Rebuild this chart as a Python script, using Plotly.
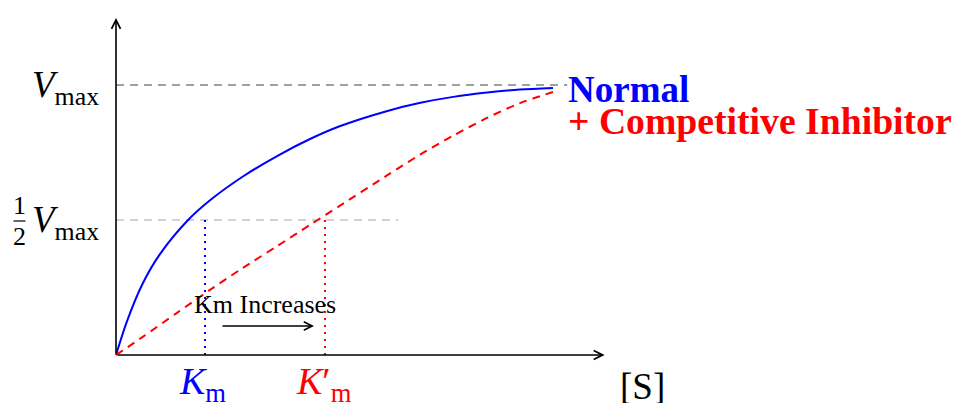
import plotly.graph_objects as go

# ---- data (x in units of Km, y in units of Vmax) ----
normal_s = [0, 0.12, 0.30, 0.49, 0.81, 1.06, 1.43, 1.81, 2.18, 2.52, 3.04, 3.42, 3.79, 4.17, 4.54, 4.91]
normal_v = [0, 0.122, 0.265, 0.372, 0.5, 0.574, 0.662, 0.737, 0.800, 0.848, 0.903, 0.934, 0.956, 0.972, 0.983, 0.989]
inhib_s = [0, 0.30, 0.685, 1.056, 1.427, 1.809, 2.18, 2.517, 3.045, 3.416, 3.787, 4.169, 4.539, 4.91]
inhib_v = [0, 0.067, 0.156, 0.241, 0.323, 0.403, 0.482, 0.553, 0.665, 0.742, 0.812, 0.878, 0.933, 0.974]
vmax = 1.0
half_vmax = 0.5
km = 1.0
km_prime = 2.348
vmax_line_end = 5.07
half_line_end = 3.17
x_axis_end = 5.49
y_axis_end = 1.248

W, H = 966, 403
OFF = 0                    # page body margin (removed by post_script)
X0, Y0 = 116, 355          # screen pixel of origin
SX, SY = 89.0, 270.0       # pixels per unit

def px2x(p):
    return (p - X0) / SX

def py2y(p):
    return (Y0 - p) / SY

SERIF = "Liberation Serif, Times New Roman, serif"

fig = go.Figure()

# reference lines
fig.add_trace(go.Scatter(x=[0, vmax_line_end], y=[vmax, vmax], mode="lines",
                         line=dict(color="#a0a0a0", width=2, dash="8px,6px"), hoverinfo="skip"))
fig.add_trace(go.Scatter(x=[0, half_line_end], y=[half_vmax, half_vmax], mode="lines",
                         line=dict(color="#c4c4c4", width=1.3, dash="8px,6px"), hoverinfo="skip"))
fig.add_trace(go.Scatter(x=[km, km], y=[0, half_vmax], mode="lines",
                         line=dict(color="blue", width=2, dash="2px,5px"), hoverinfo="skip"))
fig.add_trace(go.Scatter(x=[km_prime, km_prime], y=[0, half_vmax], mode="lines",
                         line=dict(color="red", width=2, dash="2px,5px"), hoverinfo="skip"))

# curves
fig.add_trace(go.Scatter(x=normal_s, y=normal_v, mode="lines", line_shape="spline",
                         line=dict(color="blue", width=2, smoothing=0.8), hoverinfo="skip"))
fig.add_trace(go.Scatter(x=inhib_s, y=inhib_v, mode="lines", line_shape="spline",
                         line=dict(color="red", width=2, dash="8px,6px", smoothing=0.8), hoverinfo="skip"))

# axes with arrows
for (xe, ye) in [(x_axis_end, 0), (0, y_axis_end)]:
    fig.add_annotation(x=xe, y=ye, ax=0, ay=0, xref="x", yref="y", axref="x", ayref="y",
                       text="", showarrow=True, arrowhead=5, arrowsize=1.1, arrowwidth=1.6,
                       arrowcolor="black")

# Km increases arrow
fig.add_annotation(x=px2x(314), y=py2y(326), ax=px2x(221), ay=py2y(326),
                   xref="x", yref="y", axref="x", ayref="y", text="", showarrow=True,
                   arrowhead=5, arrowsize=1.1, arrowwidth=1.5, arrowcolor="black")
fig.add_annotation(x=px2x(265), y=py2y(304), text="Km Increases", showarrow=False,
                   font=dict(family=SERIF, size=26, color="black"), xanchor="center", yanchor="middle")

# y labels
fig.add_annotation(x=px2x(101), y=vmax, text="<i>V</i><sub>max</sub>", showarrow=False,
                   font=dict(family=SERIF, size=37, color="black"), xanchor="right", yanchor="middle",
                   yshift=-2)
fig.add_annotation(x=px2x(101), y=half_vmax, text="<i>V</i><sub>max</sub>", showarrow=False,
                   font=dict(family=SERIF, size=37, color="black"), xanchor="right", yanchor="middle",
                   yshift=-2)
# 1/2 fraction
fig.add_annotation(x=px2x(19.5), y=py2y(205), text="1", showarrow=False,
                   font=dict(family=SERIF, size=26, color="black"), xanchor="center", yanchor="middle")
fig.add_annotation(x=px2x(19.5), y=py2y(236), text="2", showarrow=False,
                   font=dict(family=SERIF, size=26, color="black"), xanchor="center", yanchor="middle")
fig.add_shape(type="line", x0=px2x(13.5), x1=px2x(25.5), y0=py2y(221), y1=py2y(221),
              xref="x", yref="y", line=dict(color="black", width=1.2))

# x labels
fig.add_annotation(x=km, y=py2y(384), text="<i>K</i><sub>m</sub>", showarrow=False,
                   font=dict(family=SERIF, size=38, color="blue"), xanchor="center", yanchor="middle",
                   xshift=-3)
fig.add_annotation(x=km_prime, y=py2y(384), text="<i>K</i>′<sub>m</sub>", showarrow=False,
                   font=dict(family=SERIF, size=38, color="red"), xanchor="center", yanchor="middle",
                   xshift=-1)
fig.add_annotation(x=px2x(642), y=py2y(386), text="[S]", showarrow=False,
                   font=dict(family=SERIF, size=37, color="black"), xanchor="center", yanchor="middle")

# partially visible y-axis title at the top (mostly above the page edge)
fig.add_annotation(x=px2x(12), y=1, xref="x", yref="paper", text="<i>v</i><sub>0</sub> (s)",
                   showarrow=False, font=dict(family=SERIF, size=37, color="black"),
                   xanchor="left", yanchor="bottom", yshift=-6)

# legend-like labels
fig.add_annotation(x=px2x(566), y=py2y(89), text="<b>Normal</b>", showarrow=False,
                   font=dict(family=SERIF, size=37, color="blue"), xanchor="left", yanchor="middle")
fig.add_annotation(x=px2x(566), y=py2y(121), text="<b>+ Competitive Inhibitor</b>", showarrow=False,
                   font=dict(family=SERIF, size=37.7, color="red"), xanchor="left", yanchor="middle")

fig.update_layout(
    width=W, height=H, margin=dict(l=0, r=0, t=0, b=0),
    paper_bgcolor="white", plot_bgcolor="white", showlegend=False,
    xaxis=dict(range=[px2x(OFF), px2x(W + OFF)], visible=False, fixedrange=True),
    yaxis=dict(range=[py2y(H + OFF), py2y(OFF)], visible=False, fixedrange=True),
)

fig.write_html("out.html", config={"displayModeBar": False},
               post_script="document.body.style.margin='0';document.body.style.overflow='hidden';")
